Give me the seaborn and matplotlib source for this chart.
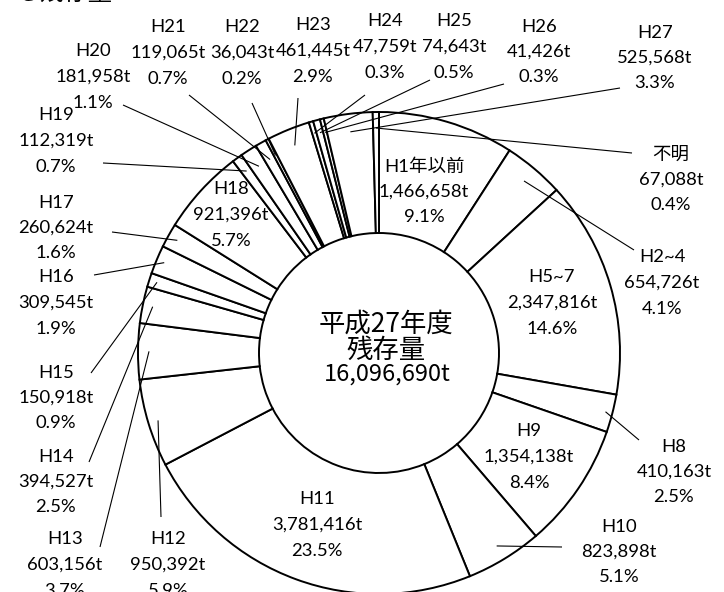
import numpy as np
import matplotlib
matplotlib.use("Agg")
import matplotlib.pyplot as plt
import seaborn as sns

# ---------------- data ----------------
categories = ["H1年以前", "H2~4", "H5~7", "H8", "H9", "H10", "H11", "H12", "H13",
              "H14", "H15", "H16", "H17", "H18", "H19", "H20", "H21", "H22",
              "H23", "H24", "H25", "H26", "H27", "不明"]
amounts = [1466658, 654726, 2347816, 410163, 1354138, 823898, 3781416, 950392,
           603156, 394527, 150918, 309545, 260624, 921396, 112319, 181958,
           119065, 36043, 461445, 47759, 74643, 41426, 525568, 67088]
amount_labels = ["1,466,658t", "654,726t", "2,347,816t", "410,163t", "1,354,138t",
                 "823,898t", "3,781,416t", "950,392t", "603,156t", "394,527t",
                 "150,918t", "309,545t", "260,624t", "921,396t", "112,319t",
                 "181,958t", "119,065t", "36,043t", "461,445t", "47,759t",
                 "74,643t", "41,426t", "525,568t", "67,088t"]
pct_labels = ["9.1%", "4.1%", "14.6%", "2.5%", "8.4%", "5.1%", "23.5%", "5.9%",
              "3.7%", "2.5%", "0.9%", "1.9%", "1.6%", "5.7%", "0.7%", "1.1%",
              "0.7%", "0.2%", "2.9%", "0.3%", "0.5%", "0.3%", "3.3%", "0.4%"]
center_lines = ["平成27年度", "残存量", "16,096,690t"]
title_text = "る残存量"

# ---------------- layout (pixels, y measured from top) ----------------
W, H = 724, 592
CX, CY = 379, 353
R_OUT, R_IN = 241, 120
# label middle-line position for each category
label_pos = {
    "H1年以前": (424, 192), "H2~4": (662, 283), "H5~7": (552, 303), "H8": (674, 472),
    "H9": (529, 457), "H10": (619, 552), "H11": (317, 525), "H12": (168, 565),
    "H13": (65, 565), "H14": (56, 482), "H15": (56, 398), "H16": (56, 303),
    "H17": (56, 228), "H18": (231, 215), "H19": (56, 141), "H20": (93, 77),
    "H21": (168, 53), "H22": (242, 53), "H23": (313, 51), "H24": (385, 47),
    "H25": (454, 47), "H26": (539, 52), "H27": (655, 58), "不明": (671, 180),
}
# leader lines: start point near label, end radius on the wedge's mid angle
leader = {
    "H2~4": ((634, 250), 225), "H8": ((639, 440), 234), "H10": ((562, 547), 226),
    "H12": ((161, 517), 231), "H13": ((100, 547), 230), "H14": ((89, 462), 231),
    "H15": ((91, 373), 233), "H16": ((94, 275), 233), "H17": ((112, 232), 231),
    "H19": ((103, 163), 225), "H20": ((123, 105), 222), "H21": ((189, 95), 222),
    "H22": ((252, 103), 223), "H23": ((298, 98), 224), "H24": ((365, 95), 229),
    "H25": ((430, 80), 228), "H26": ((504, 84), 227), "H27": ((620, 88), 223),
    "不明": ((632, 153), 225),
}
LINE_GAP = 25.5

sns.set_theme(style="white")
plt.rcParams["font.family"] = ["Lato", "Noto Sans CJK JP", "DejaVu Sans"]

fig = plt.figure(figsize=(W / 100, H / 100), dpi=100)
ax = fig.add_axes([0, 0, 1, 1])


def P(x, y):
    return x, H - y


ax.pie(amounts, startangle=90, counterclock=False, radius=R_OUT,
       center=P(CX, CY),
       wedgeprops=dict(width=R_OUT - R_IN, edgecolor="black", linewidth=1.4,
                       facecolor="white"))
ax.set_xlim(0, W)
ax.set_ylim(0, H)
ax.set_aspect("equal")
ax.axis("off")

total = float(sum(amounts))
cum = np.cumsum(amounts)
fam = ["Lato", "Noto Sans CJK JP"]
for i, cat in enumerate(categories):
    mid = np.deg2rad((cum[i] - amounts[i] / 2.0) / total * 360.0)
    lx, ly = label_pos[cat]
    for k, s in enumerate([cat, amount_labels[i], pct_labels[i]]):
        ax.text(*P(lx, ly + (k - 1) * LINE_GAP), s, ha="center", va="center",
                fontsize=13.3, family=fam, color="black")
    if cat in leader:
        (sx, sy), r = leader[cat]
        ex = CX + r * np.sin(mid)
        ey = CY - r * np.cos(mid)
        ax.plot([sx, ex], [H - sy, H - ey], color="black", lw=0.8,
                solid_capstyle="butt")

ax.text(*P(386, 324), center_lines[0], ha="center", va="center", fontsize=19,
        family=["Noto Sans CJK JP"], color="black")
ax.text(*P(386, 350), center_lines[1], ha="center", va="center", fontsize=19,
        family=["Noto Sans CJK JP"], color="black")
ax.text(*P(387, 374), center_lines[2], ha="center", va="center", fontsize=17,
        family=["Noto Sans CJK JP"], color="black")
ax.text(*P(15, 0), title_text, ha="left", va="baseline", fontsize=17.5,
        family=["Noto Sans CJK JP"], color="black", clip_on=False)

fig.savefig("out.png", dpi=100)
